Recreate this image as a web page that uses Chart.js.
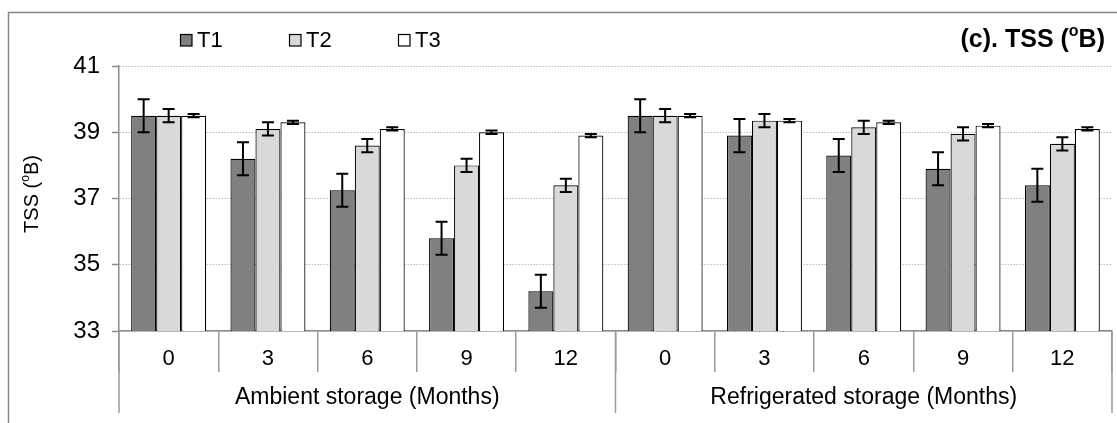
<!DOCTYPE html>
<html>
<head>
<meta charset="utf-8">
<script src="https://cdn.jsdelivr.net/npm/chart.js@4/dist/chart.umd.min.js"></script>
<style>
  html, body { margin: 0; padding: 0; background: #fff; }
  #wrap { width: 1117px; height: 423px; }
</style>
</head>
<body>
<div id="wrap"><canvas id="c" width="1117" height="423"></canvas></div>
<script>
// Storage time points (months) under each storage condition
const months = ['0', '3', '6', '9', '12'];
const storageGroups = ['Ambient storage (Months)', 'Refrigerated storage (Months)'];
const categories = [...months, ...months];

// Treatments
const seriesNames = ['T1', 'T2', 'T3'];
const seriesColors = ['#808080', '#d9d9d9', '#ffffff'];

// TSS (ºB): ambient 0..12, then refrigerated 0..12
const t1Values = [39.5, 38.2, 37.25, 35.8, 34.2, 39.5, 38.9, 38.3, 37.9, 37.4];
const t2Values = [39.5, 39.1, 38.6, 38.0, 37.4, 39.5, 39.35, 39.15, 38.95, 38.65];
const t3Values = [39.5, 39.3, 39.1, 39.0, 38.9, 39.5, 39.35, 39.3, 39.2, 39.1];

// Standard errors
const t1Errors = [0.5, 0.5, 0.5, 0.5, 0.5, 0.5, 0.5, 0.5, 0.5, 0.5];
const t2Errors = [0.2, 0.2, 0.2, 0.2, 0.2, 0.2, 0.2, 0.2, 0.2, 0.2];
const t3Errors = [0.05, 0.05, 0.05, 0.05, 0.05, 0.05, 0.05, 0.05, 0.05, 0.05];

const yTicks = [33, 35, 37, 39, 41];
const chartTitle = ['(c). TSS (', 'o', 'B)'];
const yTitle = ['TSS (', 'o', 'B)'];

const FONT = "'Liberation Sans', Arial, sans-serif";
const allValues = [t1Values, t2Values, t3Values];
const allErrors = [t1Errors, t2Errors, t3Errors];

// Draws text made of normal / superscript / normal pieces, starting at x
function drawSupText(ctx, parts, x, y, size, weight) {
  const big = weight + ' ' + size + 'px ' + FONT;
  const small = weight + ' ' + Math.round(size * 0.62) + 'px ' + FONT;
  ctx.font = big;
  ctx.fillText(parts[0], x, y);
  x += ctx.measureText(parts[0]).width;
  ctx.font = small;
  ctx.fillText(parts[1], x, y - size * 0.33);
  x += ctx.measureText(parts[1]).width;
  ctx.font = big;
  ctx.fillText(parts[2], x, y);
}
function supTextWidth(ctx, parts, size, weight) {
  const big = weight + ' ' + size + 'px ' + FONT;
  const small = weight + ' ' + Math.round(size * 0.62) + 'px ' + FONT;
  ctx.font = big;
  let w = ctx.measureText(parts[0]).width + ctx.measureText(parts[2]).width;
  ctx.font = small;
  w += ctx.measureText(parts[1]).width;
  return w;
}

const decorations = {
  id: 'decorations',
  beforeDraw(chart) {
    const ctx = chart.ctx;
    ctx.save();
    // outer frame
    ctx.strokeStyle = '#868686';
    ctx.lineWidth = 1.5;
    ctx.beginPath();
    ctx.moveTo(8.5, chart.height);
    ctx.lineTo(8.5, 12.5);
    ctx.lineTo(chart.width, 12.5);
    ctx.stroke();
    ctx.restore();
  },
  afterDatasetsDraw(chart) {
    const ctx = chart.ctx;
    const yScale = chart.scales.y;
    ctx.save();
    ctx.strokeStyle = '#000';
    ctx.lineWidth = 2;
    chart.data.datasets.forEach((ds, di) => {
      const meta = chart.getDatasetMeta(di);
      meta.data.forEach((bar, i) => {
        const v = ds.data[i];
        const e = allErrors[di][i];
        const yt = yScale.getPixelForValue(v + e);
        const yb = yScale.getPixelForValue(v - e);
        const cap = 6;
        ctx.beginPath();
        ctx.moveTo(bar.x, yt); ctx.lineTo(bar.x, yb);
        ctx.moveTo(bar.x - cap, yt); ctx.lineTo(bar.x + cap, yt);
        ctx.moveTo(bar.x - cap, yb); ctx.lineTo(bar.x + cap, yb);
        ctx.stroke();
      });
    });
    ctx.restore();
  },
  afterDraw(chart) {
    const ctx = chart.ctx;
    const x = chart.scales.x;
    const area = chart.chartArea;
    ctx.save();

    // storage-group dividers and labels
    const perGroup = months.length;
    const bounds = [x.left];
    for (let g = 1; g < storageGroups.length; g++) {
      bounds.push((x.getPixelForValue(g * perGroup - 1) + x.getPixelForValue(g * perGroup)) / 2);
    }
    bounds.push(x.right);
    ctx.strokeStyle = '#9a9a9a';
    ctx.lineWidth = 1.5;
    bounds.forEach(b => {
      ctx.beginPath();
      ctx.moveTo(b, area.bottom);
      ctx.lineTo(b, 413);
      ctx.stroke();
    });
    ctx.fillStyle = '#000';
    ctx.font = '23px ' + FONT;
    ctx.textAlign = 'center';
    ctx.textBaseline = 'middle';
    storageGroups.forEach((name, g) => {
      const c = (x.getPixelForValue(g * perGroup) + x.getPixelForValue(g * perGroup + perGroup - 1)) / 2;
      ctx.fillText(name, c, 398);
    });

    // legend
    ctx.textAlign = 'left';
    ctx.font = '22px ' + FONT;
    chart.data.datasets.forEach((ds, i) => {
      const bx = 180 + i * 109;
      ctx.fillStyle = ds.backgroundColor;
      ctx.fillRect(bx, 34, 12, 12);
      ctx.strokeStyle = '#000';
      ctx.lineWidth = 1.2;
      ctx.strokeRect(bx + 0.5, 34.5, 11.5, 11.5);
      ctx.fillStyle = '#000';
      ctx.fillText(ds.label, bx + 17, 41);
    });

    // chart title, right-aligned
    ctx.textBaseline = 'middle';
    const tw = supTextWidth(ctx, chartTitle, 25, 'bold');
    drawSupText(ctx, chartTitle, 1105 - tw, 40, 25, 'bold');

    // y-axis title
    ctx.translate(32, 194);
    ctx.rotate(-Math.PI / 2);
    const yw = supTextWidth(ctx, yTitle, 20, 'normal');
    drawSupText(ctx, yTitle, -yw / 2, 0, 20, 'normal');

    ctx.restore();
  }
};

new Chart(document.getElementById('c'), {
  type: 'bar',
  data: {
    labels: categories,
    datasets: seriesNames.map((name, i) => ({
      label: name,
      data: allValues[i],
      backgroundColor: seriesColors[i],
      borderColor: '#000',
      borderWidth: 1.2,
      borderSkipped: false,
      categoryPercentage: 0.755,
      barPercentage: 1.0
    }))
  },
  options: {
    responsive: false,
    animation: false,
    layout: { padding: { top: 66, right: 5, left: 0, bottom: 0 } },
    plugins: {
      legend: { display: false },
      title: { display: false },
      tooltip: { enabled: false }
    },
    scales: {
      x: {
        offset: true,
        grid: { offset: true, drawOnChartArea: false, drawTicks: true, tickLength: 41, color: '#9a9a9a', lineWidth: 1.5 },
        border: { display: true, color: '#8c8c8c', width: 1.5 },
        ticks: { font: { family: FONT, size: 22 }, color: '#000', padding: -26, maxRotation: 0, autoSkip: false },
        afterFit: s => { s.height = 92; }
      },
      y: {
        min: 33,
        max: 41,
        afterBuildTicks: s => { s.ticks = yTicks.map(v => ({ value: v })); },
        grid: { color: '#bdbdbd', lineWidth: 1, tickLength: 7, tickColor: '#8c8c8c', tickWidth: 1.5, drawTicks: true },
        border: { display: true, color: '#8c8c8c', width: 1.5, dash: [1.5, 1.5] },
        ticks: { font: { family: FONT, size: 24 }, color: '#000', padding: 12 },
        afterFit: s => { s.width = 119; }
      }
    }
  },
  plugins: [decorations]
});
</script>
</body>
</html>
